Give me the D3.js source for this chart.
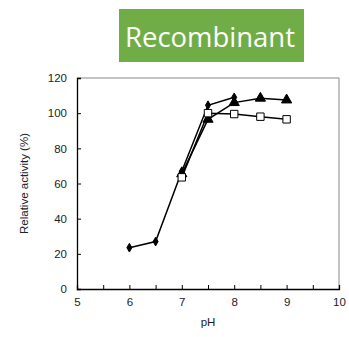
<!DOCTYPE html>
<html>
<head>
<meta charset="utf-8">
<script src="https://cdn.jsdelivr.net/npm/d3@7"></script>
<style>
  body { margin: 0; background: #fff; }
  svg { display: block; }
</style>
</head>
<body>
<script>
const width = 349;
const height = 337;

// pH values and relative activity (%) for the three series
const phDiamond = [6, 6.5, 7, 7.5, 8];
const actDiamond = [23.5, 27, 67, 104.5, 109];
const phTriangle = [7, 7.5, 8, 8.5, 9];
const actTriangle = [65.5, 96.5, 106, 108.5, 107.5];
const phSquare = [7, 7.5, 8, 8.5, 9];
const actSquare = [63.5, 100, 99.5, 98, 96.5];

const xTicks = [5, 6, 7, 8, 9, 10];
const xMinor = [5.5, 6.5, 7.5, 8.5, 9.5];
const yTicks = [0, 20, 40, 60, 80, 100, 120];

const x = d3.scaleLinear().domain([5, 10]).range([77, 339]);
const y = d3.scaleLinear().domain([0, 120]).range([289, 78]);

const svg = d3.select("body").append("svg")
  .attr("width", width)
  .attr("height", height)
  .attr("font-family", "Liberation Sans, Arial, sans-serif");

// title box
svg.append("rect")
  .attr("x", 119).attr("y", 9)
  .attr("width", 185).attr("height", 53)
  .attr("fill", "#70ad47");
svg.append("text")
  .attr("x", 125).attr("y", 47)
  .attr("font-family", "Open Sans, Lato, sans-serif")
  .attr("font-size", 27)
  .attr("textLength", 170)
  .attr("lengthAdjust", "spacingAndGlyphs")
  .attr("fill", "#fff")
  .text("Recombinant");

// plot frame (top/right grey)
svg.append("path")
  .attr("d", `M${x(5)},${y(120)}H${x(10)}V${y(0)}`)
  .attr("fill", "none")
  .attr("stroke", "#888")
  .attr("stroke-width", 1);

// axes with inward ticks
const xAxis = svg.append("g")
  .attr("transform", `translate(0,${y(0)})`)
  .call(d3.axisBottom(x).tickValues(xTicks.concat(xMinor)).tickSize(-4).tickPadding(9)
    .tickFormat((d) => (xTicks.includes(d) ? d : "")));
const yAxis = svg.append("g")
  .attr("transform", `translate(${x(5)},0)`)
  .call(d3.axisLeft(y).tickValues(yTicks).tickSize(-4).tickPadding(10));

[xAxis, yAxis].forEach((g) => {
  g.select(".domain").attr("stroke", "#000").attr("stroke-width", 1.3);
  g.selectAll(".tick line").attr("stroke", "#000");
  g.selectAll("text").attr("font-size", 11.5).attr("fill", "#222")
    .attr("font-family", "Liberation Sans, Arial, sans-serif");
});

svg.append("text")
  .attr("x", x(7.5)).attr("y", 326)
  .attr("text-anchor", "middle")
  .attr("font-size", 11.5).attr("fill", "#222")
  .text("pH");
svg.append("text")
  .attr("transform", `translate(28,${y(60)}) rotate(-90)`)
  .attr("text-anchor", "middle")
  .attr("font-size", 11.5).attr("fill", "#222")
  .text("Relative activity (%)");

const line = d3.line().x((d) => x(d[0])).y((d) => y(d[1]));

const drawSeries = (xs, ys, symbol, size, fill) => {
  const pts = xs.map((v, i) => [v, ys[i]]);
  svg.append("path")
    .attr("d", line(pts))
    .attr("fill", "none")
    .attr("stroke", "#000")
    .attr("stroke-width", 1.5);
  svg.append("g").selectAll("path")
    .data(pts)
    .join("path")
    .attr("transform", (d) => `translate(${x(d[0])},${y(d[1])})`)
    .attr("d", d3.symbol().type(symbol).size(size))
    .attr("fill", fill)
    .attr("stroke", "#000")
    .attr("stroke-width", 1);
};

drawSeries(phDiamond, actDiamond, d3.symbolDiamond, 22, "#000");
drawSeries(phTriangle, actTriangle, d3.symbolTriangle, 45, "#000");
drawSeries(phSquare, actSquare, d3.symbolSquare, 55, "#fff");
</script>
</body>
</html>
